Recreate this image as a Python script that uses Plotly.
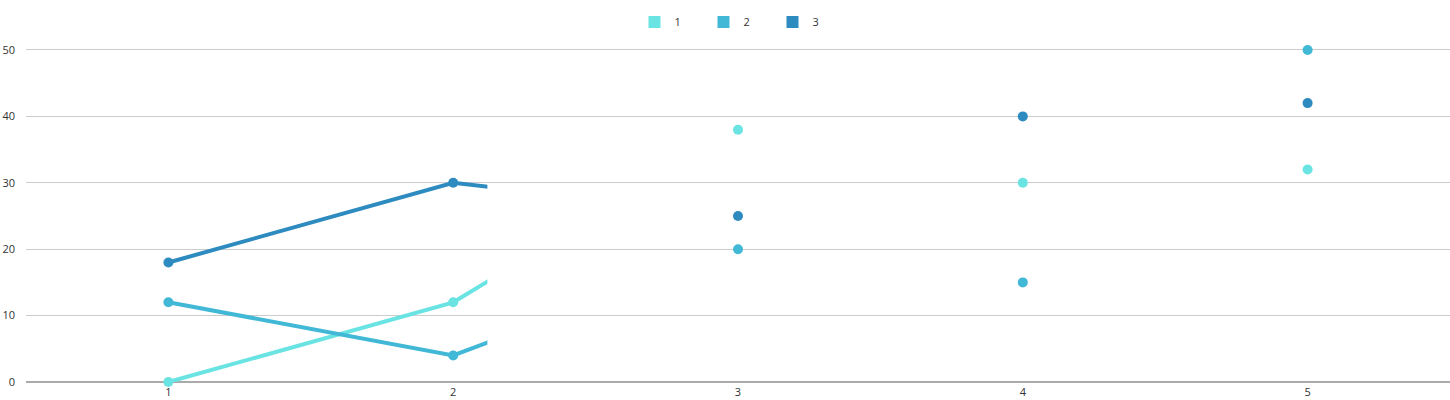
import plotly.graph_objects as go

categories = [1, 2, 3, 4, 5]
series_names = ["1", "2", "3"]
series_1 = [0, 12, 38, 30, 32]
series_2 = [12, 4, 20, 15, 50]
series_3 = [18, 30, 25, 40, 42]
y_ticks = [0, 10, 20, 30, 40, 50]

colors = ["#6AE3E3", "#41B8D6", "#2E8BC0"]
all_series = [series_1, series_2, series_3]

X_MIN, X_MAX = 0.5, 5.5
Y_MAX = 50.3
LINE_END = 2.12  # line drawing clipped (partial reveal)
d2 = (LINE_END - X_MIN) / (X_MAX - X_MIN)

fig = go.Figure()

# lines, clipped by a narrower subplot with identical scale
for name, vals, c in zip(series_names, all_series, colors):
    fig.add_trace(go.Scatter(x=categories, y=vals, mode="lines",
                             line=dict(color=c, width=4), xaxis="x2", yaxis="y2",
                             showlegend=False, hoverinfo="skip"))

# markers
for name, vals, c in zip(series_names, all_series, colors):
    fig.add_trace(go.Scatter(x=categories, y=vals, mode="markers", name=name,
                             marker=dict(color=c, size=10), cliponaxis=False,
                             showlegend=False))

# legend entries
for name, c in zip(series_names, colors):
    fig.add_trace(go.Scatter(x=[None], y=[None], mode="markers", name=name,
                             marker=dict(color=c, size=14, symbol="square")))

font = dict(family="Open Sans, Lato, sans-serif", size=11, color="#333333")

fig.update_layout(
    width=1450, height=400,
    margin=dict(l=26, r=0, t=48, b=18, autoexpand=False),
    paper_bgcolor="white", plot_bgcolor="rgba(0,0,0,0)",
    font=font,
    legend=dict(orientation="h", x=0.5, xanchor="center", y=1 - 22 / 400, yanchor="middle",
                yref="container", font=font, entrywidth=24, itemsizing="constant"),
    xaxis=dict(range=[X_MIN, X_MAX], domain=[0, 1], tickvals=categories,
               ticktext=[str(c) for c in categories], showgrid=False, zeroline=False,
               showline=False, ticks="", tickfont=font, ticklabelstandoff=2,
               automargin=False),
    yaxis=dict(range=[0, Y_MAX], domain=[0, 1], tickvals=y_ticks, showgrid=True,
               gridcolor="#CCCCCC", gridwidth=1, zeroline=True, zerolinecolor="#AAAAAA",
               zerolinewidth=2, showline=False, ticks="", tickfont=font,
               ticklabelstandoff=10, automargin=False),
    xaxis2=dict(range=[X_MIN, LINE_END], domain=[0, d2], anchor="y2", visible=False),
    yaxis2=dict(range=[0, Y_MAX], domain=[0, 1], anchor="x2", visible=False),
)

fig.write_html("out.html", post_script="document.body.style.margin='0';",
               config={"displayModeBar": False})
